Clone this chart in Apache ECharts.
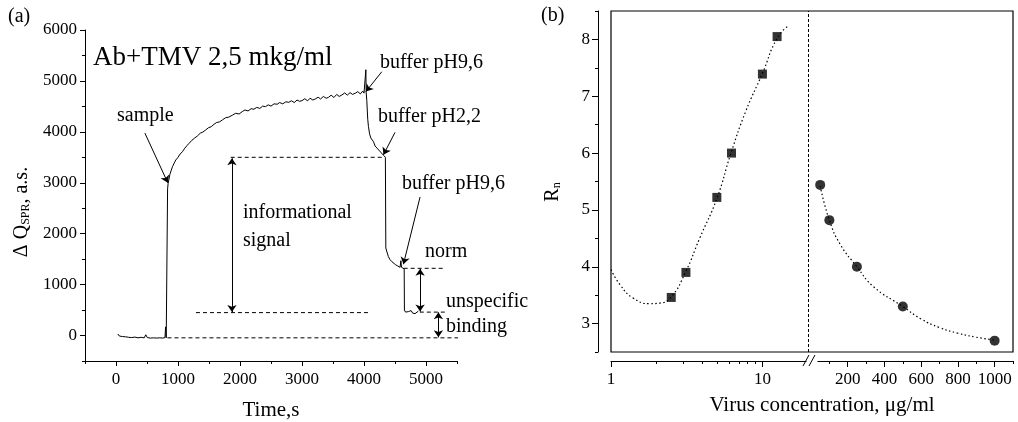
<!DOCTYPE html>
<html>
<head>
<meta charset="utf-8">
<script src="https://cdn.jsdelivr.net/npm/echarts@6/dist/echarts.min.js"></script>
<style>
html, body { margin: 0; padding: 0; background: #fff; }
#main { width: 1018px; height: 422px; }
</style>
</head>
<body>
<div id="main"></div>
<script>
// (a) SPR sensorgram, time in s / signal in a.s.
var timeS = [30,55,80,105,130,155,180,205,230,255,280,305,330,355,380,405,430,455,480,505,530,555,580,605,630,655,680,705,730,755,775,790,800,810,830,
  832,841,870,911,940,965,1000,1035,1072,1110,1145,1179,1225,1270,1313,1360,1400,1447,1490,1535,1581,1625,1670,1715,1765,1820,1876,1930,1985,2036,2080,2130,2180,2224,2270,2320,2365,2411,2455,2500,2550,2599,2640,2690,2740,2787,2830,2875,2920,2960,3001,3045,3090,3130,3175,3215,3260,3300,3345,3390,3429,3470,3515,3560,3600,3644,3690,3730,3775,3815,3859,3900,3940,3980,4000,4019,
  4025,4030,4035,4045,4060,4072,4090,4110,4130,4153,4180,4210,4240,4270,4290,4300,4314,4330,4345,4352,4370,4394,4420,4450,4475,4510,4545,4582,4595,4605,4636,4648,4652,4670,4690,4716,4740,4760,4785,4805,4823,4850,4877];
var dQ = [30,-10,15,-20,5,-25,-10,-35,-15,-40,-20,-30,-15,-45,-25,-35,-20,-45,15,-40,-30,-50,-35,-45,-25,-50,-30,-45,-20,-50,-35,-40,170,-45,-40,
  2880,2990,3170,3316,3390,3448,3500,3565,3611,3680,3730,3776,3835,3880,3919,3975,3995,4037,4080,4100,4149,4185,4195,4234,4275,4290,4326,4365,4350,4397,4430,4410,4455,4444,4480,4460,4505,4495,4530,4505,4550,4542,4575,4550,4590,4580,4610,4575,4625,4600,4613,4650,4610,4660,4625,4646,4680,4645,4695,4660,4679,4720,4675,4735,4695,4725,4765,4720,4770,4735,4758,4790,4745,4800,4760,4790,
  4800,5220,4780,4620,4250,4102,3960,3880,3900,3807,3720,3680,3640,3600,3580,3620,3540,3510,3500,1720,1640,1548,1490,1450,1418,1390,1365,1340,1470,1340,1320,1310,500,460,490,470,450,490,440,470,430,460,480];

// (a) guide lines and arrows, in data units
var guideDashes = [
  [[1850, 3500], [4300, 3500]],
  [[1290, 450], [4070, 450]],
  [[4640, 1320], [5310, 1320]],
  [[4900, 460], [5330, 460]],
  [[830, -45], [5700, -45]]
];
var pointerArrows = [
  [[466, 3975], [835, 3000]],
  [[4287, 5180], [4030, 4790]],
  [[4500, 3990], [4314, 3550]],
  [[4904, 2720], [4636, 1400]]
];
var spanArrows = [
  [[1870, 3480], [1870, 460]],
  [[4905, 1310], [4905, 470]],
  [[5200, 455], [5200, -35]]
];

// (b) Rn vs virus concentration
var concLow = [2.5, 3.125, 5, 6.25, 10, 12.5];
var rnLow = [3.46, 3.9, 5.22, 6.0, 7.39, 8.05];
var concHigh = [50, 100, 250, 500, 1000];
var rnHigh = [5.44, 4.82, 4.0, 3.3, 2.7];
var fitLowX = [1, 1.15, 1.4, 1.8, 2.1, 2.5, 3.1, 3.85, 5, 6.2, 7.8, 10, 12.5, 15];
var fitLowY = [3.95, 3.68, 3.45, 3.35, 3.36, 3.47, 3.9, 4.5, 5.2, 6.0, 6.75, 7.4, 8.02, 8.25];
var fitHighX = [50, 100, 160, 250, 340, 500, 600, 700, 800, 900, 1000];
var fitHighY = [5.42, 4.82, 4.39, 4.0, 3.65, 3.3, 3.08, 2.93, 2.83, 2.76, 2.71];

// tick values
var timeTicks = [0, 1000, 2000, 3000, 4000, 5000];
var timeMinor = [-500, 500, 1500, 2500, 3500, 4500, 5500];
var dqTicks = [0, 1000, 2000, 3000, 4000, 5000, 6000];
var dqMinor = [-500, 500, 1500, 2500, 3500, 4500, 5500];
var rnTicks = [3, 4, 5, 6, 7, 8];
var rnMinor = [2.5, 3.5, 4.5, 5.5, 6.5, 7.5, 8.5];
var concLowTicks = [1, 10];
var concLowMinor = [2, 3, 4, 5, 6, 7, 8, 9];
var concHighTicks = [200, 400, 600, 800, 1000];
var concHighMinor = [100, 300, 500, 700, 900, 1100];

var FONT = '"Liberation Serif", "Times New Roman", serif';
var INK = '#000';

function zip(xs, ys) {
  return xs.map(function (x, i) { return [x, ys[i]]; });
}

function axis(grid, type, min, max, interval, pos, offset, ticks, len, labels, margin) {
  var a = {
    gridIndex: grid, type: type, min: min, max: max, position: pos, offset: offset || 0,
    axisLine: { show: !!labels, onZero: false, lineStyle: { color: INK, width: 1 } },
    axisTick: { show: true, customValues: ticks, length: len, lineStyle: { color: INK, width: 1 } },
    axisLabel: labels ? {
      customValues: labels, margin: margin, color: INK, fontFamily: FONT, fontSize: 17,
      formatter: function (v) { return String(Math.round(v * 100) / 100); }
    } : { show: false },
    splitLine: { show: false },
    minorTick: { show: false }
  };
  if (interval) a.interval = interval;
  return a;
}

var myChart = echarts.init(document.getElementById('main'));

var series = [];
series.push({
  type: 'line', xAxisIndex: 0, yAxisIndex: 0,
  data: zip(timeS, dQ),
  showSymbol: false, symbol: 'none',
  lineStyle: { color: INK, width: 1 },
  markLine: {
    silent: true, animation: false,
    symbolSize: 7,
    label: { show: false },
    lineStyle: { color: INK, width: 1, type: 'solid' },
    data: pointerArrows.map(function (p) {
      return [{ coord: p[0], symbol: 'none' }, { coord: p[1], symbol: 'arrow' }];
    }).concat(spanArrows.map(function (p) {
      return [{ coord: p[0], symbol: 'arrow' }, { coord: p[1], symbol: 'arrow' }];
    }))
  }
});
guideDashes.forEach(function (seg) {
  series.push({
    type: 'line', xAxisIndex: 0, yAxisIndex: 0, clip: false,
    data: seg, showSymbol: false, symbol: 'none',
    lineStyle: { color: INK, width: 1, type: [4, 3] }
  });
});
series.push({
  type: 'line', xAxisIndex: 2, yAxisIndex: 2,
  data: zip(fitLowX, fitLowY), smooth: true, showSymbol: false, symbol: 'none',
  lineStyle: { color: INK, width: 1.2, type: [1.5, 2.5] },
  markLine: {
    silent: true, animation: false, symbol: 'none', label: { show: false },
    lineStyle: { color: INK, width: 1, type: [3, 2] },
    data: [{ xAxis: 20 }]
  }
});
series.push({
  type: 'scatter', xAxisIndex: 2, yAxisIndex: 2,
  data: zip(concLow, rnLow), symbol: 'rect', symbolSize: 9,
  itemStyle: { color: INK }
});
series.push({
  type: 'line', xAxisIndex: 4, yAxisIndex: 4,
  data: zip(fitHighX, fitHighY), smooth: true, showSymbol: false, symbol: 'none',
  lineStyle: { color: INK, width: 1.2, type: [1.5, 2.5] }
});
series.push({
  type: 'scatter', xAxisIndex: 4, yAxisIndex: 4,
  data: zip(concHigh, rnHigh), symbol: 'circle', symbolSize: 10,
  itemStyle: { color: INK }
});

// text labels (layout only)
var notes = [
  { text: '(a)', x: 8, y: 17, size: 20 },
  { text: '(b)', x: 541, y: 16, size: 20 },
  { text: 'Ab+TMV 2,5 mkg/ml', x: 93, y: 58, size: 27 },
  { text: 'sample', x: 117, y: 116, size: 20 },
  { text: 'buffer pH9,6', x: 380, y: 63, size: 20 },
  { text: 'buffer pH2,2', x: 378, y: 117, size: 20 },
  { text: 'buffer pH9,6', x: 402, y: 184, size: 20 },
  { text: 'informational', x: 243, y: 213, size: 20 },
  { text: 'signal', x: 243, y: 241, size: 20 },
  { text: 'norm', x: 425, y: 252, size: 20 },
  { text: 'unspecific', x: 446, y: 302, size: 20 },
  { text: 'binding', x: 446, y: 327, size: 20 }
];

var graphic = [];
notes.forEach(function (n) {
  graphic.push({
    type: 'text', x: n.x, y: n.y, silent: true, z: 50,
    style: { text: n.text, fontFamily: FONT, fontSize: n.size, fill: INK,
      align: 'left', verticalAlign: 'middle', textAlign: 'left', textVerticalAlign: 'middle' }
  });
});
// axis titles
graphic.push({
  type: 'text', x: 271, y: 410, silent: true, z: 50,
  style: { text: 'Time,s', fontFamily: FONT, fontSize: 21, fill: INK,
    align: 'center', verticalAlign: 'middle', textAlign: 'center', textVerticalAlign: 'middle' }
});
graphic.push({
  type: 'text', x: 822, y: 405, silent: true, z: 50,
  style: { text: 'Virus concentration, \u03bcg/ml', fontFamily: FONT, fontSize: 21, fill: INK,
    align: 'center', verticalAlign: 'middle', textAlign: 'center', textVerticalAlign: 'middle' }
});
var subRich = {
  a: { fontFamily: FONT, fontSize: 20, lineHeight: 20, fill: INK, color: INK, verticalAlign: 'bottom' },
  s: { fontFamily: FONT, fontSize: 12, lineHeight: 6, fill: INK, color: INK, verticalAlign: 'bottom' }
};
graphic.push({
  type: 'text', x: 22, y: 212, rotation: Math.PI / 2, silent: true, z: 50,
  style: { text: '{a|\u0394 Q}{s|SPR}{a|, a.s.}', rich: subRich, fill: INK,
    align: 'center', verticalAlign: 'middle', textAlign: 'center', textVerticalAlign: 'middle' }
});
graphic.push({
  type: 'text', x: 553, y: 192, rotation: Math.PI / 2, silent: true, z: 50,
  style: { text: '{a|R}{s|n}', rich: subRich, fill: INK,
    align: 'center', verticalAlign: 'middle', textAlign: 'center', textVerticalAlign: 'middle' }
});
// frame of (b) and axis break marks
graphic.push({
  type: 'rect', silent: true, z: 40,
  shape: { x: 611, y: 11, width: 402, height: 341 },
  style: { fill: 'none', stroke: INK, lineWidth: 1.2 }
});
graphic.push({
  type: 'rect', silent: true, z: 60,
  shape: { x: 806.5, y: 356, width: 11, height: 12 },
  style: { fill: '#fff', stroke: 'none' }
});
graphic.push({
  type: 'line', silent: true, z: 61,
  shape: { x1: 803, y1: 366, x2: 809, y2: 355 },
  style: { stroke: INK, lineWidth: 1 }
});
graphic.push({
  type: 'line', silent: true, z: 61,
  shape: { x1: 809, y1: 366, x2: 815, y2: 355 },
  style: { stroke: INK, lineWidth: 1 }
});

myChart.setOption({
  animation: false,
  backgroundColor: '#fff',
  grid: [
    { left: 85, top: 30, width: 372, height: 331, outerBoundsMode: 'none' },
    { left: 611, top: 11, width: 197, height: 341, outerBoundsMode: 'none' },
    { left: 811, top: 11, width: 202, height: 341, outerBoundsMode: 'none' }
  ],
  xAxis: [
    axis(0, 'value', -500, 5500, 500, 'bottom', 0, timeTicks, 5, timeTicks, 10),
    axis(0, 'value', -500, 5500, 500, 'bottom', 0, timeMinor, 3, null),
    axis(1, 'log', 1, 20, null, 'bottom', 9, concLowTicks, 6, concLowTicks, 10),
    axis(1, 'log', 1, 20, null, 'bottom', 9, concLowMinor, 3, null),
    axis(2, 'value', 0, 1100, 100, 'bottom', 9, concHighTicks, 6, concHighTicks, 10),
    axis(2, 'value', 0, 1100, 100, 'bottom', 9, concHighMinor, 3, null)
  ],
  yAxis: [
    axis(0, 'value', -500, 6000, 500, 'left', 0, dqTicks, 5, dqTicks, 8),
    axis(0, 'value', -500, 6000, 500, 'left', 0, dqMinor, 3, null),
    axis(1, 'value', 2.5, 8.5, 0.5, 'left', 13, rnTicks, 6, rnTicks, 8),
    axis(1, 'value', 2.5, 8.5, 0.5, 'left', 13, rnMinor, 3, null),
    { gridIndex: 2, type: 'value', min: 2.5, max: 8.5, show: false }
  ],
  series: series,
  graphic: graphic
});
</script>
</body>
</html>
